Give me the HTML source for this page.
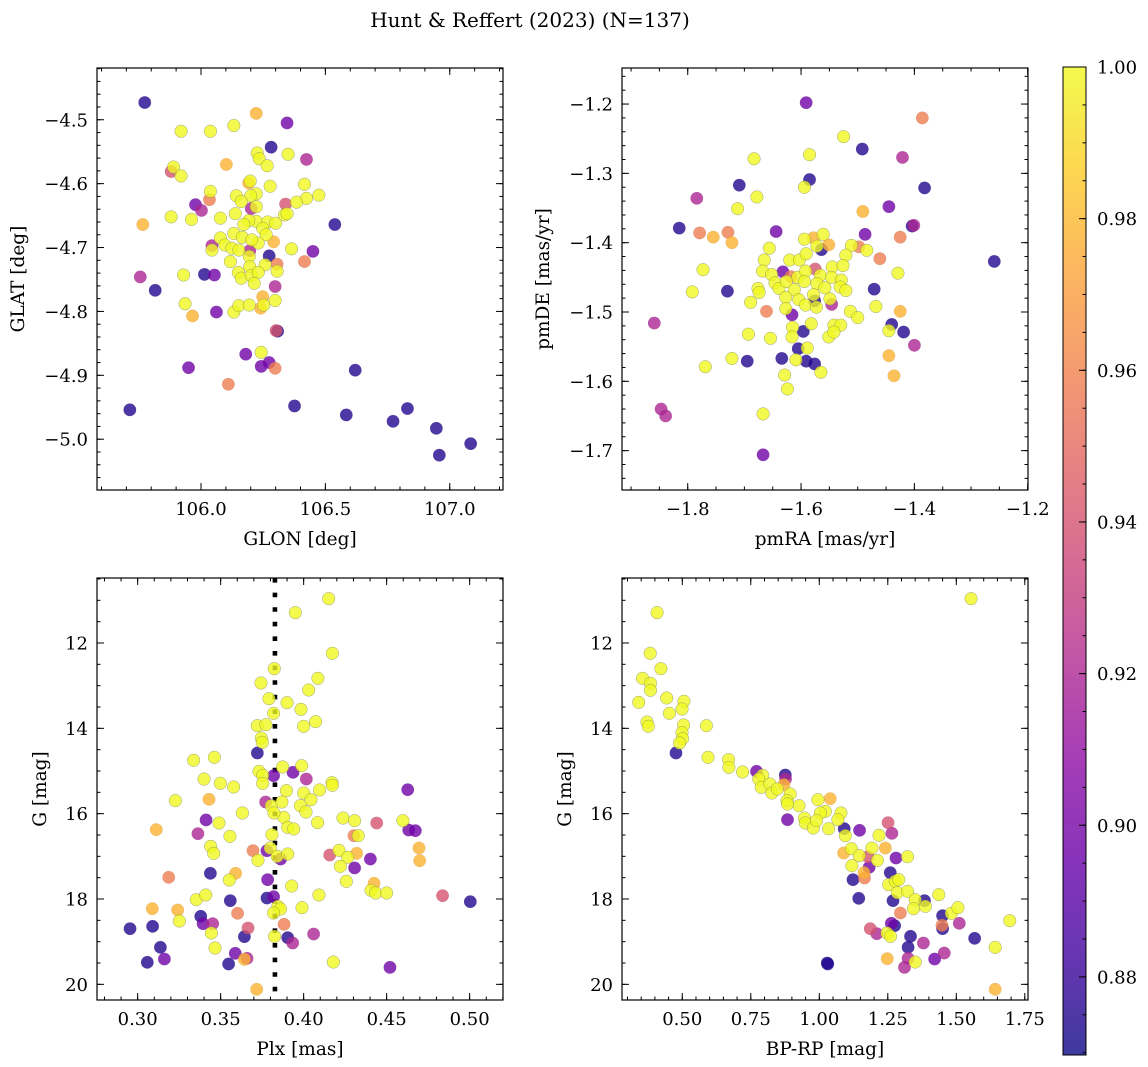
<!DOCTYPE html>
<html><head><meta charset="utf-8">
<style>
html,body{margin:0;padding:0;background:#fff;}
svg{display:block;font-family:"DejaVu Serif","Liberation Serif",serif;}
</style></head>
<body>
<svg id="fig" width="1148" height="1067" viewBox="0 0 1148 1067" xmlns="http://www.w3.org/2000/svg">
<defs>
<linearGradient id="cbgrad" x1="0" y1="1" x2="0" y2="0">
<stop offset="0" stop-color="#0d0887"/><stop offset="0.1" stop-color="#41049d"/><stop offset="0.2" stop-color="#6a00a8"/><stop offset="0.3" stop-color="#8f0da4"/><stop offset="0.4" stop-color="#b12a90"/><stop offset="0.5" stop-color="#cc4778"/><stop offset="0.6" stop-color="#e16462"/><stop offset="0.7" stop-color="#f2844b"/><stop offset="0.8" stop-color="#fca636"/><stop offset="0.9" stop-color="#fcce25"/><stop offset="1" stop-color="#f0f921"/>
</linearGradient>
</defs>
<text x="530" y="27" font-size="20" text-anchor="middle">Hunt &amp; Reffert (2023) (N=137)</text>
</svg>
<script>
// ---- probability classes ----
const classProb = {Y:1.0, O:0.978, S:0.958, P:0.94, M:0.92, V:0.898, B:0.875};

// ---- panel 1: GLON / GLAT ----
const glon = [105.774,106.222,106.346,105.920,106.038,106.132,106.282,106.226,106.234,106.350,
106.424,106.266,106.102,105.890,105.880,105.920,106.198,106.192,106.278,106.416,
106.038,106.034,106.142,106.222,106.200,106.424,106.474,106.384,105.978,106.002,
106.340,106.162,106.222,106.202,105.880,105.962,106.078,106.138,106.336,106.346,
105.766,106.538,106.222,106.192,106.268,106.300,106.172,106.248,106.132,106.166,
106.078,106.262,106.230,106.292,106.204,106.044,106.044,106.096,106.124,106.152,
106.196,106.194,106.274,106.364,106.450,106.306,106.258,106.416,106.118,106.196,
105.756,105.816,105.930,106.014,106.054,106.150,106.162,106.202,106.230,106.306,
106.214,106.298,105.936,105.966,106.062,106.132,106.152,106.194,106.248,106.240,106.252,106.298,
106.308,106.302,106.180,106.242,106.274,106.242,106.298,105.950,106.110,
105.714,106.376,106.584,106.620,106.772,106.830,106.946,106.958,107.084];
const glat = [-4.473,-4.490,-4.505,-4.518,-4.518,-4.509,-4.543,-4.552,-4.561,-4.554,
-4.562,-4.572,-4.570,-4.574,-4.581,-4.588,-4.596,-4.599,-4.604,-4.601,
-4.612,-4.625,-4.619,-4.616,-4.619,-4.623,-4.618,-4.629,-4.633,-4.642,
-4.632,-4.628,-4.636,-4.639,-4.652,-4.656,-4.654,-4.647,-4.649,-4.647,
-4.664,-4.664,-4.659,-4.658,-4.660,-4.662,-4.664,-4.670,-4.678,-4.684,
-4.685,-4.680,-4.693,-4.691,-4.688,-4.697,-4.704,-4.696,-4.701,-4.704,
-4.705,-4.714,-4.713,-4.702,-4.706,-4.726,-4.727,-4.722,-4.722,-4.730,
-4.746,-4.767,-4.743,-4.742,-4.743,-4.739,-4.748,-4.744,-4.739,-4.737,
-4.756,-4.761,-4.788,-4.807,-4.801,-4.801,-4.791,-4.790,-4.777,-4.795,-4.790,-4.783,
-4.831,-4.830,-4.867,-4.864,-4.880,-4.886,-4.889,-4.888,-4.914,
-4.954,-4.948,-4.962,-4.892,-4.972,-4.952,-4.983,-5.025,-5.007];
const posClass = "BOVYYYBYYY"+"MYOYPYYOYY"+"YSYYYYYYVM"+"PYYMYYYYYY"+"OBYYYYYYYY"+"YYYOYMYYYY"+"MYBYVSYSYY"+"MBYBVYYYYY"+"YMYOVYYYOOYY"+"BP"+"VYVVSVS"+"BBBBBBBBB";
const glonTicks = [106.0,106.5,107.0];
const glatTicks = [-4.5,-4.6,-4.7,-4.8,-4.9,-5.0];

// ---- panel 2: pmRA / pmDE ----
const pmra = [-1.591,-1.386,-1.525,-1.492,-1.421,-1.683,-1.585,-1.585,-1.594,-1.709,-1.382,-1.678,-1.784,-1.712,-1.445,-1.491,-1.815,-1.779,-1.755,-1.729,-1.722,-1.644,-1.404,-1.401,-1.487,-1.425,-1.594,-1.578,-1.561,-1.551,-1.564,-1.572,-1.656,-1.511,-1.498,-1.484,-1.461,-1.259,-1.773,-1.665,-1.620,-1.603,-1.591,-1.521,-1.429,-1.668,-1.652,-1.632,-1.618,-1.606,-1.592,-1.575,-1.566,-1.545,-1.526,-1.792,-1.730,-1.676,-1.674,-1.646,-1.639,-1.626,-1.612,-1.594,-1.572,-1.558,-1.546,-1.529,-1.531,-1.521,-1.471,-1.689,-1.627,-1.604,-1.578,-1.576,-1.549,-1.546,-1.592,-1.573,-1.661,-1.627,-1.616,-1.513,-1.500,-1.468,-1.425,-1.582,-1.615,-1.596,-1.616,-1.693,-1.654,-1.542,-1.530,-1.551,-1.542,-1.440,-1.445,-1.419,-1.400,-1.605,-1.589,-1.722,-1.695,-1.634,-1.609,-1.591,-1.576,-1.565,-1.769,-1.629,-1.624,-1.445,-1.436,-1.859,-1.847,-1.839,-1.667,-1.667];
const pmde = [-1.198,-1.220,-1.247,-1.265,-1.277,-1.279,-1.273,-1.309,-1.320,-1.317,-1.321,-1.334,-1.336,-1.351,-1.348,-1.355,-1.379,-1.386,-1.392,-1.385,-1.400,-1.384,-1.376,-1.375,-1.388,-1.392,-1.395,-1.393,-1.388,-1.403,-1.410,-1.405,-1.408,-1.404,-1.406,-1.411,-1.423,-1.427,-1.439,-1.425,-1.425,-1.425,-1.416,-1.418,-1.444,-1.441,-1.446,-1.442,-1.449,-1.450,-1.441,-1.438,-1.447,-1.435,-1.433,-1.471,-1.470,-1.466,-1.472,-1.458,-1.466,-1.456,-1.468,-1.456,-1.459,-1.465,-1.450,-1.454,-1.464,-1.469,-1.467,-1.486,-1.479,-1.482,-1.475,-1.484,-1.481,-1.489,-1.490,-1.493,-1.499,-1.495,-1.504,-1.499,-1.508,-1.492,-1.499,-1.517,-1.522,-1.528,-1.536,-1.532,-1.538,-1.519,-1.519,-1.536,-1.529,-1.518,-1.527,-1.529,-1.548,-1.553,-1.552,-1.567,-1.571,-1.567,-1.569,-1.571,-1.575,-1.587,-1.579,-1.591,-1.611,-1.563,-1.592,-1.516,-1.640,-1.650,-1.647,-1.706];
const pmClass = "VSYBMYYBYB"+"BYMYVOBSOS"+"OVBMVSYOYO"+"BYYYSYSBYY"+"YYYYYYYVSY"+"YPYYYYBYYY"+"YYYYYYYYYY"+"BYYYYBYMYY"+"SYVYYYOYYB"+"YYYYYYYBYB"+"MBYYBBYBBY"+"YYYOOMMMYV";
const pmraTicks = [-1.8,-1.6,-1.4,-1.2];
const pmdeTicks = [-1.2,-1.3,-1.4,-1.5,-1.6,-1.7];

// ---- panel 3: Plx / G ----
const plx = [.4151,.3950,.4173,.3823,.4086,.4030,.3743,.3791,.3900,.3984,
.3819,.4000,.4072,.3721,.3773,.3745,.3751,.3721,.3337,.3462,
.3873,.3988,.3936,.4016,.3731,.3753,.3819,.3753,.3400,.3498,
.3578,.3896,.4000,.4096,.4171,.4173,.4044,.3227,.3430,.3771,
.3805,.3869,.3980,.4014,.3631,.3880,.3821,.4627,.4237,.4307,
.4084,.3412,.3490,.3904,.3940,.4598,.4633,.4673,.4440,.3112,
.3363,.3556,.4303,.4329,.3809,.3440,.3458,.3695,.3779,.3799,
.3861,.3841,.3904,.3725,.4213,.4319,.4157,.4265,.4221,.4402,
.4307,.4695,.4699,.3187,.3438,.3590,.3552,.3783,.3928,.4257,
.4424,.4406,.4434,.4500,.4092,.3353,.3410,.3558,.3779,.3819,
.3845,.3861,.3819,.3990,.4837,.5004,.3088,.3241,.3251,.3380,
.3394,.3452,.3444,.3602,.3665,.3643,.3882,.3825,.3904,.3934,
.4060,.2954,.3090,.3137,.3161,.3058,.3466,.3588,.3659,.3643,
.3548,.4179,.4520,.3717];
const gmagA = [10.961,11.289,12.242,12.602,12.828,13.102,12.938,13.305,13.398,13.555,
13.648,13.953,13.844,13.938,13.914,14.227,14.328,14.578,14.750,14.680,
14.906,14.875,15.031,15.188,15.008,15.102,15.109,15.289,15.188,15.289,
15.375,15.461,15.516,15.445,15.273,15.336,15.672,15.695,15.664,15.727,
15.813,15.727,15.813,15.961,15.984,16.086,15.984,15.438,16.102,16.164,
16.211,16.148,16.219,16.320,16.359,16.164,16.383,16.398,16.219,16.375,
16.469,16.531,16.516,16.516,16.492,16.766,16.930,16.867,16.867,16.805,
17.063,17.000,16.945,17.094,16.859,16.930,16.969,17.023,17.234,17.063,
17.273,16.805,17.102,17.492,17.398,17.398,17.555,17.547,17.695,17.586,
17.633,17.797,17.859,17.859,17.906,18.016,17.906,18.039,17.977,17.945,
18.172,18.234,18.328,18.203,17.922,18.063,18.227,18.258,18.516,18.406,
18.578,18.578,18.797,18.336,18.680,18.883,18.594,18.875,18.906,19.031,
18.820,18.695,18.641,19.133,19.406,19.484,19.148,19.273,19.391,19.414,
19.523,19.477,19.602,20.117];
const plxClass = "YYYYYYYYYY"+"YYYYYYYBYY"+"YYVMYYVYYY"+"YYYYYYYYOM"+"YYYYYYYVYY"+"YVYYYYVVPO"+"MYSYYYYSVY"+"VYYYYOPYYV"+"VOOSBOYVYY"+"OYYYYYYBBV"+"YYYYPBOOYB"+"VMYSPBSYBM"+"MBBBVBYVMO"+"BYVO";
const plxRef = 0.3827;
const plxTicks = [0.30,0.35,0.40,0.45,0.50];
const gTicks = [12,14,16,18,20];

// ---- panel 4: BP-RP / G ----
const bprp = [1.554,.408,.383,.422,.355,.384,.384,.341,.443,.506,
.499,.453,.371,.376,.505,.588,.499,.501,.490,.477,
.594,.669,.670,.720,.771,.876,.877,.793,.779,.788,
.820,.827,.847,.871,.894,.882,.926,.884,.995,1.040,
1.022,1.004,1.079,.946,.949,.978,.884,.990,1.034,1.068,
1.091,1.147,1.095,1.251,1.265,1.218,1.089,1.117,1.146,1.178,
1.192,1.241,1.212,1.280,1.322,1.182,1.119,1.163,1.165,1.123,
1.259,1.253,1.277,1.290,1.144,1.269,1.285,1.322,1.350,1.384,
1.344,1.387,1.436,1.296,1.450,1.482,1.506,1.448,1.450,1.511,
1.263,1.275,1.186,1.210,1.247,1.260,1.333,1.324,1.380,1.567,
1.695,1.642,1.248,1.324,1.311,1.350,1.421,1.456,1.029,1.642,1.031];
const gmagB = [10.961,11.289,12.242,12.602,12.828,12.945,13.109,13.391,13.289,13.367,
13.547,13.648,13.852,13.953,13.922,13.938,14.102,14.242,14.344,14.578,
14.680,14.734,14.914,15.023,15.008,15.094,15.188,15.102,15.188,15.383,
15.305,15.516,15.422,15.320,15.539,15.695,15.813,15.773,15.672,15.648,
15.945,15.984,15.984,16.102,16.219,16.336,16.141,16.164,16.352,16.141,
16.352,16.391,16.516,16.211,16.461,16.508,16.922,16.820,16.984,17.008,
16.805,16.805,17.094,17.039,17.008,17.258,17.219,17.383,17.508,17.547,
17.383,17.664,17.586,17.547,17.984,18.039,17.852,17.820,18.016,18.039,
18.227,18.172,17.898,18.328,18.391,18.336,18.203,18.617,18.695,18.570,
18.570,18.625,18.695,18.813,18.797,18.875,18.875,19.133,19.031,18.922,
18.508,19.133,19.398,19.391,19.602,19.477,19.406,19.266,19.500,20.117,19.523];
const cmdClass = "YYYYYYYYYY"+"YYYYYYYYYB"+"YYYYVBMYYY"+"YYYOYYYYYO"+"YYYYYYVYYY"+"BVYPMYOYYP"+"YOYVYVYOSB"+"BYYYBBYYYB"+"YYYSBYYSBM"+"VBPMYYBBMB"+"YYOMMYVMBOB";
const bprpTicks = [0.50,0.75,1.00,1.25,1.50,1.75];

// ---- colorbar ----
const cbarTicks = [0.88,0.90,0.92,0.94,0.96,0.98,1.00];
const cbarMin = 0.8697, cbarMax = 1.0;

const NS = "http://www.w3.org/2000/svg";
const svg = document.getElementById('fig');
function mk(tag, attrs, parent){
  const e = document.createElementNS(NS, tag);
  for (const k in attrs) e.setAttribute(k, attrs[k]);
  (parent||svg).appendChild(e);
  return e;
}
const plasma = ["#0d0887","#41049d","#6a00a8","#8f0da4","#b12a90","#cc4778","#e16462","#f2844b","#fca636","#fcce25","#f0f921"];
function hex2rgb(h){return [parseInt(h.substr(1,2),16),parseInt(h.substr(3,2),16),parseInt(h.substr(5,2),16)];}
function cmap(v){
  let t = (v-cbarMin)/(cbarMax-cbarMin); t=Math.max(0,Math.min(1,t));
  const f=t*10, i=Math.min(9,Math.floor(f)), r=f-i;
  const a=hex2rgb(plasma[i]), b=hex2rgb(plasma[i+1]);
  return "rgb("+a.map((c,j)=>Math.round(c+(b[j]-c)*r)).join(",")+")";
}
function fmtNum(v, d){ const s=Math.abs(v).toFixed(d); return (v<0?"\u2212":"")+s; }

function axes(o){
  const {name,L,T,W,H,xmin,xmax,ymin,ymax,yInvert} = o;
  const g = mk('g',{});
  
  
  const sx = v => L + (v-xmin)/(xmax-xmin)*W;
  const sy = yInvert ? (v => T + (v-ymin)/(ymax-ymin)*H) : (v => T + (ymax-v)/(ymax-ymin)*H);
  return {g,sx,sy,L,T,W,H};
}
function frameAndTicks(ax, o){
  const {g,sx,sy,L,T,W,H} = ax;
  const tg = mk('g',{stroke:"#000","stroke-width":"1"},g);
  
  
  const inX = v => v >= Math.min(o.xmin,o.xmax)-1e-9 && v <= Math.max(o.xmin,o.xmax)+1e-9;
  const inY = v => v >= Math.min(o.ymin,o.ymax)-1e-9 && v <= Math.max(o.ymin,o.ymax)+1e-9;
  const sxm = o.xMinor;
  for (let v=Math.ceil(o.xmin/sxm)*sxm; v<=o.xmax+1e-9; v+=sxm){
    const x=sx(v); mk('line',{x1:x,y1:T+H,x2:x,y2:T+H-3.5},tg); mk('line',{x1:x,y1:T,x2:x,y2:T+3.5},tg);
  }
  const lo=Math.min(o.ymin,o.ymax), hi=Math.max(o.ymin,o.ymax);
  for (let v=Math.ceil(lo/o.yMinor)*o.yMinor; v<=hi+1e-9; v+=o.yMinor){
    const y=sy(v); mk('line',{x1:L,y1:y,x2:L+3.5,y2:y},tg); mk('line',{x1:L+W,y1:y,x2:L+W-3.5,y2:y},tg);
  }
  o.xTicks.forEach(v=>{ if(!inX(v)) return; const x=sx(v);
    mk('line',{x1:x,y1:T+H,x2:x,y2:T+H-7},tg); mk('line',{x1:x,y1:T,x2:x,y2:T+7},tg);
    const t=mk('text',{x:x,y:T+H+25,"font-size":"18","text-anchor":"middle"},g); t.textContent=fmtNum(v,o.xDec);
    
    
  });
  o.yTicks.forEach(v=>{ if(!inY(v)) return; const y=sy(v);
    mk('line',{x1:L,y1:y,x2:L+7,y2:y},tg); mk('line',{x1:L+W,y1:y,x2:L+W-7,y2:y},tg);
    const t=mk('text',{x:L-9,y:y+6.5,"font-size":"18","text-anchor":"end"},g); t.textContent=fmtNum(v,o.yDec);
    
    
  });
  const fr = mk('rect',{x:L,y:T,width:W,height:H,fill:"none",stroke:"#000","stroke-width":"1.2"},g);
  
  
  const xl=mk('text',{x:L+W/2,y:T+H+55,"font-size":"18.5","text-anchor":"middle"},g); xl.textContent=o.xLabel;
  
  
  const yx=o.yLabelX, yy=T+H/2;
  const yl=mk('text',{x:yx,y:yy,"font-size":"18.5","text-anchor":"middle",transform:"rotate(-90 "+yx+" "+yy+")"},g); yl.textContent=o.yLabel;
  
  
}
function scatter(ax, xs, ys, cls, name){
  const n=Math.min(xs.length, ys.length, cls.length);
  const idx=[]; for(let i=0;i<n;i++) idx.push(i);
  idx.sort((a,b)=>classProb[cls[a]]-classProb[cls[b]]);
  const pg = mk('g',{},ax.g);
  
  
  idx.forEach(i=>{
    const p=classProb[cls[i]];
    const c=mk('circle',{cx:ax.sx(xs[i]),cy:ax.sy(ys[i]),r:6.3,fill:cmap(p),"fill-opacity":"0.8",stroke:"#666","stroke-width":"0.5","stroke-opacity":p>0.99?"0.6":"0.15"},pg);
    
    
  });
}

const o1={name:"position-panel",L:97,T:68,W:406,H:422,xmin:105.582,xmax:107.214,ymin:-5.0795,ymax:-4.419,xMinor:0.1,yMinor:0.02,xTicks:glonTicks,yTicks:glatTicks,xDec:1,yDec:1,xLabel:"GLON [deg]",yLabel:"GLAT [deg]",yLabelX:24};
const a1=axes(o1); scatter(a1,glon,glat,posClass,"position"); frameAndTicks(a1,o1);

const o2={name:"proper-motion-panel",L:622,T:68,W:406,H:422,xmin:-1.916,xmax:-1.1995,ymin:-1.7568,ymax:-1.148,xMinor:0.05,yMinor:0.02,xTicks:pmraTicks,yTicks:pmdeTicks,xDec:1,yDec:1,xLabel:"pmRA [mas/yr]",yLabel:"pmDE [mas/yr]",yLabelX:549};
const a2=axes(o2); scatter(a2,pmra,pmde,pmClass,"proper-motion"); frameAndTicks(a2,o2);

const o3={name:"parallax-panel",L:97,T:578,W:406,H:422,xmin:0.2755,xmax:0.5201,ymin:10.477,ymax:20.367,yInvert:true,xMinor:0.01,yMinor:0.5,xTicks:plxTicks,yTicks:gTicks,xDec:2,yDec:0,xLabel:"Plx [mas]",yLabel:"G [mag]",yLabelX:46};
const a3=axes(o3);
const xr=a3.sx(plxRef);
const ref=mk('line',{x1:xr,y1:578,x2:xr,y2:1000,stroke:"#000","stroke-width":"4.6","stroke-dasharray":"4.6 10"},a3.g);


scatter(a3,plx,gmagA,plxClass,"parallax"); frameAndTicks(a3,o3);

const o4={name:"cmd-panel",L:622,T:578,W:406,H:422,xmin:0.280,xmax:1.7617,ymin:10.477,ymax:20.367,yInvert:true,xMinor:0.05,yMinor:0.5,xTicks:bprpTicks,yTicks:gTicks,xDec:2,yDec:0,xLabel:"BP-RP [mag]",yLabel:"G [mag]",yLabelX:571};
const a4=axes(o4); scatter(a4,bprp,gmagB,cmdClass,"cmd"); frameAndTicks(a4,o4);

const CB={L:1063,T:67,W:23,H:988};
const cbg=mk('g',{});


const cbr=mk('rect',{x:CB.L,y:CB.T,width:CB.W,height:CB.H,fill:"url(#cbgrad)","fill-opacity":"0.8",stroke:"#000","stroke-width":"1"},cbg);


const cy = v => CB.T + (cbarMax-v)/(cbarMax-cbarMin)*CB.H;
for(let v=0.87; v<=1.0001; v+=0.005){
  const y=cy(v); if(y<CB.T||y>CB.T+CB.H) continue;
  mk('line',{x1:CB.L+CB.W,y1:y,x2:CB.L+CB.W-3.5,y2:y,stroke:"#000","stroke-width":"1"},cbg);
}
cbarTicks.forEach(v=>{
  const y=cy(v);
  mk('line',{x1:CB.L+CB.W,y1:y,x2:CB.L+CB.W-7,y2:y,stroke:"#000","stroke-width":"1"},cbg);
  const t=mk('text',{x:CB.L+CB.W+11,y:y+6.5,"font-size":"18"},cbg); t.textContent=v.toFixed(2);
  
  
});
</script>
</body></html>
